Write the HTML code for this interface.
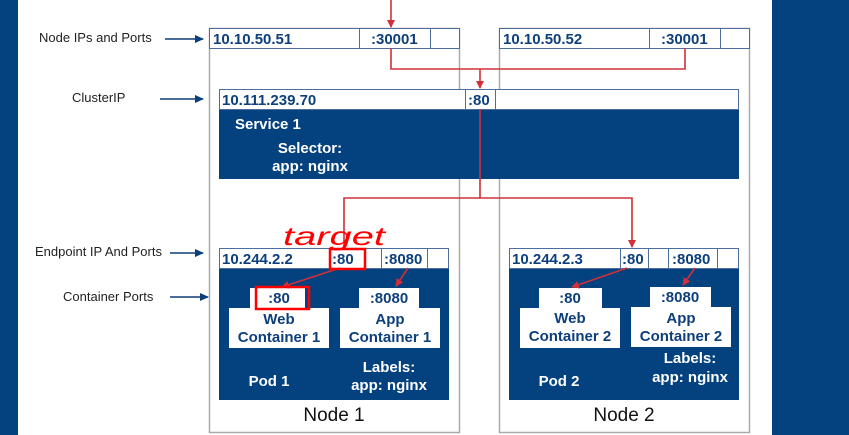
<!DOCTYPE html>
<html><head><meta charset="utf-8"><style>
html,body{margin:0;padding:0;background:#fff}
svg{display:block}
text{font-family:"Liberation Sans",Arial,sans-serif}
.b{font-weight:bold;fill:#0d3f7c;font-size:15px}
.w{font-weight:bold;fill:#fff;font-size:15px}
.l{fill:#222;font-size:13px}
</style></head><body>
<svg width="849" height="435" viewBox="0 0 849 435" xmlns="http://www.w3.org/2000/svg">
<defs>
<marker id="ar" markerWidth="8" markerHeight="8" refX="7" refY="4" orient="auto" markerUnits="userSpaceOnUse"><path d="M0,0 L8,4 L0,8 z" fill="#d0303a"/></marker>
<marker id="ab" markerWidth="9" markerHeight="8" refX="8" refY="4" orient="auto" markerUnits="userSpaceOnUse"><path d="M0,0 L9,4 L0,8 z" fill="#0d3f7c"/></marker>
</defs>
<rect x="0" y="0" width="18" height="435" fill="#03417f"/>
<rect x="772" y="0" width="77" height="435" fill="#03417f"/>

<text class="l" x="39" y="42">Node IPs and Ports</text>
<line x1="165" y1="39" x2="203" y2="39" stroke="#0d3f7c" stroke-width="1.5" marker-end="url(#ab)"/>
<text class="l" x="72" y="102">ClusterIP</text>
<line x1="160" y1="99" x2="203" y2="99" stroke="#0d3f7c" stroke-width="1.5" marker-end="url(#ab)"/>
<text class="l" x="35" y="256">Endpoint IP And Ports</text>
<line x1="170" y1="253" x2="203" y2="253" stroke="#0d3f7c" stroke-width="1.5" marker-end="url(#ab)"/>
<text class="l" x="63" y="301">Container Ports</text>
<line x1="170" y1="297" x2="208" y2="297" stroke="#0d3f7c" stroke-width="1.5" marker-end="url(#ab)"/>

<rect x="209.5" y="28.5" width="250" height="404" fill="none" stroke="#aaa" stroke-width="1.5"/>
<rect x="499.5" y="28.5" width="250" height="404" fill="none" stroke="#aaa" stroke-width="1.5"/>
<g fill="#fff" stroke="#4a6f9f" stroke-width="1">
<rect x="209.5" y="28.5" width="150" height="20"/><rect x="359.5" y="28.5" width="71" height="20"/><rect x="430.5" y="28.5" width="29" height="20"/>
<rect x="499.5" y="28.5" width="150" height="20"/><rect x="649.5" y="28.5" width="71" height="20"/><rect x="720.5" y="28.5" width="29" height="20"/>
</g>
<text class="b" x="213" y="44">10.10.50.51</text><text class="b" x="371" y="44">:30001</text>
<text class="b" x="503" y="44">10.10.50.52</text><text class="b" x="661" y="44">:30001</text>

<rect x="219" y="109" width="520" height="70" fill="#03417f"/>
<g fill="#fff" stroke="#4a6f9f" stroke-width="1">
<rect x="219.5" y="89.5" width="246" height="20"/><rect x="465.5" y="89.5" width="30" height="20"/><rect x="495.5" y="89.5" width="243" height="20"/>
</g>
<text class="b" x="222" y="105">10.111.239.70</text><text class="b" x="468" y="105">:80</text>
<text class="w" x="235" y="129">Service 1</text>
<text class="w" x="310" y="153" text-anchor="middle">Selector:</text>
<text class="w" x="310" y="171" text-anchor="middle">app: nginx</text>

<rect x="219" y="268" width="230" height="132" fill="#03417f"/>
<rect x="509" y="268" width="230" height="132" fill="#03417f"/>
<g fill="#fff" stroke="#4a6f9f" stroke-width="1">
<rect x="219.5" y="248.5" width="229" height="20"/>
<rect x="329.5" y="248.5" width="36" height="20"/><rect x="381.5" y="248.5" width="46" height="20"/>
<rect x="509.5" y="248.5" width="229" height="20"/>
<rect x="620.5" y="248.5" width="28" height="20"/><rect x="668.5" y="248.5" width="49" height="20"/>
</g>
<g fill="#fff">
<rect x="250" y="288" width="55" height="20"/><rect x="359" y="288" width="60" height="20"/>
<rect x="229" y="308" width="100" height="40"/><rect x="340" y="308" width="100" height="40"/>
<rect x="539" y="288" width="63" height="20"/><rect x="650" y="287" width="61" height="20"/>
<rect x="520" y="308" width="100" height="40"/><rect x="631" y="307" width="100" height="40"/>
</g>
<text class="b" x="222" y="264">10.244.2.2</text><text class="b" x="332" y="264">:80</text><text class="b" x="384" y="264">:8080</text>
<text class="b" x="512" y="264">10.244.2.3</text><text class="b" x="622" y="264">:80</text><text class="b" x="672" y="264">:8080</text>
<text class="b" x="279" y="303" text-anchor="middle">:80</text><text class="b" x="389" y="303" text-anchor="middle">:8080</text>
<text class="b" x="279" y="324" text-anchor="middle">Web</text><text class="b" x="279" y="342" text-anchor="middle">Container 1</text>
<text class="b" x="390" y="324" text-anchor="middle">App</text><text class="b" x="390" y="342" text-anchor="middle">Container 1</text>
<text class="b" x="570" y="303" text-anchor="middle">:80</text><text class="b" x="680" y="302" text-anchor="middle">:8080</text>
<text class="b" x="570" y="323" text-anchor="middle">Web</text><text class="b" x="570" y="341" text-anchor="middle">Container 2</text>
<text class="b" x="681" y="323" text-anchor="middle">App</text><text class="b" x="681" y="341" text-anchor="middle">Container 2</text>
<text class="w" x="269" y="386" text-anchor="middle">Pod 1</text>
<text class="w" x="389" y="372" text-anchor="middle">Labels:</text><text class="w" x="389" y="390" text-anchor="middle">app: nginx</text>
<text class="w" x="559" y="386" text-anchor="middle">Pod 2</text>
<text class="w" x="690" y="363" text-anchor="middle">Labels:</text><text class="w" x="690" y="382" text-anchor="middle">app: nginx</text>
<text x="334" y="421" text-anchor="middle" font-size="19" fill="#111">Node 1</text>
<text x="624" y="421" text-anchor="middle" font-size="19" fill="#111">Node 2</text>

<g stroke="#d0303a" stroke-width="1.6" fill="none">
<line x1="391" y1="0" x2="391" y2="27" marker-end="url(#ar)"/>
<polyline points="391,48 391,69 685,69 685,48"/>
<line x1="480" y1="69" x2="480" y2="88" marker-end="url(#ar)"/>
<polyline points="480,109 480,198 632,198 632,247" marker-end="url(#ar)"/>
<polyline points="480,198 344,198 344,248"/>
<line x1="340" y1="268" x2="282" y2="287" marker-end="url(#ar)"/>
<line x1="408" y1="268" x2="396" y2="286" marker-end="url(#ar)"/>
<line x1="627" y1="268" x2="572" y2="287" marker-end="url(#ar)"/>
<line x1="695" y1="268" x2="683" y2="285" marker-end="url(#ar)"/>
</g>
<rect x="330" y="249" width="35" height="20" fill="none" stroke="#f00" stroke-width="2.5"/>
<rect x="256" y="287" width="53" height="22" fill="none" stroke="#f00" stroke-width="2.5"/>
<text x="283" y="245" font-size="26" fill="#f00" font-style="italic" font-family="'Liberation Serif',serif" textLength="102" lengthAdjust="spacingAndGlyphs">target</text>
</svg>
</body></html>
